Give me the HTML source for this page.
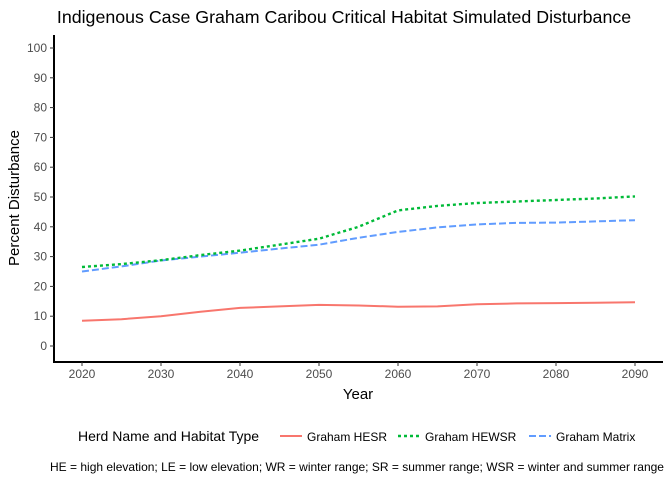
<!DOCTYPE html>
<html><head><style>
body{margin:0;background:#fff;font-family:"Liberation Sans",Arial,sans-serif;}
</style></head><body>
<svg width="672" height="480" xmlns="http://www.w3.org/2000/svg" font-family="Liberation Sans, Arial, sans-serif">
<text x="344" y="23" text-anchor="middle" font-size="17.8" fill="#000">Indigenous Case Graham Caribou Critical Habitat Simulated Disturbance</text>
<g id="axes"></g>
<g id="series"></g>
<text x="19" y="198" transform="rotate(-90 19 198)" text-anchor="middle" font-size="15">Percent Disturbance</text>
<text x="358" y="399" text-anchor="middle" font-size="15">Year</text>
<g>
<text x="78" y="441" font-size="14">Herd Name and Habitat Type</text>
<g><line x1="280" y1="436" x2="302" y2="436" stroke="#F8766D" stroke-width="2"/><text x="307" y="441" font-size="12">Graham HESR</text></g>
<g><line x1="398" y1="436" x2="420" y2="436" stroke="#00BA38" stroke-width="2.4" stroke-dasharray="3,3"/><text x="425" y="441" font-size="12">Graham HEWSR</text></g>
<g><line x1="529" y1="436" x2="551" y2="436" stroke="#619CFF" stroke-width="2" stroke-dasharray="7,3"/><text x="556" y="441" font-size="12">Graham Matrix</text></g>
</g>
<text x="357" y="471" text-anchor="middle" font-size="12">HE = high elevation; LE = low elevation; WR  = winter range; SR = summer range; WSR = winter and summer range</text>
</svg>
<script>
const years=[2020,2025,2030,2035,2040,2045,2050,2055,2060,2065,2070,2075,2080,2085,2090];
const hesr=[8.5,9,10,11.5,12.8,13.3,13.8,13.6,13.2,13.3,14,14.3,14.4,14.5,14.7];
const hewsr=[26.5,27.5,28.8,30.5,32,34,36,40,45.5,47,48,48.5,49,49.5,50.2];
const matrix=[25,26.7,28.7,30,31.3,32.7,34,36.3,38.3,39.8,40.8,41.3,41.4,41.8,42.2];
const xTicks=[2020,2030,2040,2050,2060,2070,2080,2090];
const yTicks=[0,10,20,30,40,50,60,70,80,90,100];
const NS="http://www.w3.org/2000/svg";
const X=v=>82+(v-2020)*(635-82)/70;
const Y=v=>346-v*2.98;
function mk(t,a,p){const e=document.createElementNS(NS,t);for(const k in a)e.setAttribute(k,a[k]);p.appendChild(e);return e;}
const ax=document.getElementById('axes');
const yl=mk('line',{x1:54,y1:35,x2:54,y2:362,stroke:'#000','stroke-width':2},ax);


const xl=mk('line',{x1:53,y1:362,x2:663,y2:362,stroke:'#000','stroke-width':2},ax);


yTicks.forEach(v=>{
 mk('line',{x1:50,x2:54,y1:Y(v),y2:Y(v),stroke:'#333','stroke-width':1},ax);
 const t=mk('text',{x:47,y:Y(v)+4,'text-anchor':'end','font-size':12,fill:'#4d4d4d'},ax);t.textContent=v;
 
 
});
xTicks.forEach(v=>{
 mk('line',{x1:X(v),x2:X(v),y1:362,y2:366,stroke:'#333','stroke-width':1},ax);
 const t=mk('text',{x:X(v),y:378,'text-anchor':'middle','font-size':12,fill:'#4d4d4d'},ax);t.textContent=v;
 
 
});
const sg=document.getElementById('series');
function line(vals,color,dash,name,w){
 const d=vals.map((v,i)=>(i?'L':'M')+X(years[i]).toFixed(1)+','+Y(v).toFixed(1)).join('');
 const p=mk('path',{d:d,fill:'none',stroke:color,'stroke-width':w,'stroke-dasharray':dash},sg);
 
 
}
line(hesr,'#F8766D','none','line-graham-hesr',2);
line(matrix,'#619CFF','7,3','line-graham-matrix',2);
line(hewsr,'#00BA38','3,3','line-graham-hewsr',2.4);
</script>
</body></html>
